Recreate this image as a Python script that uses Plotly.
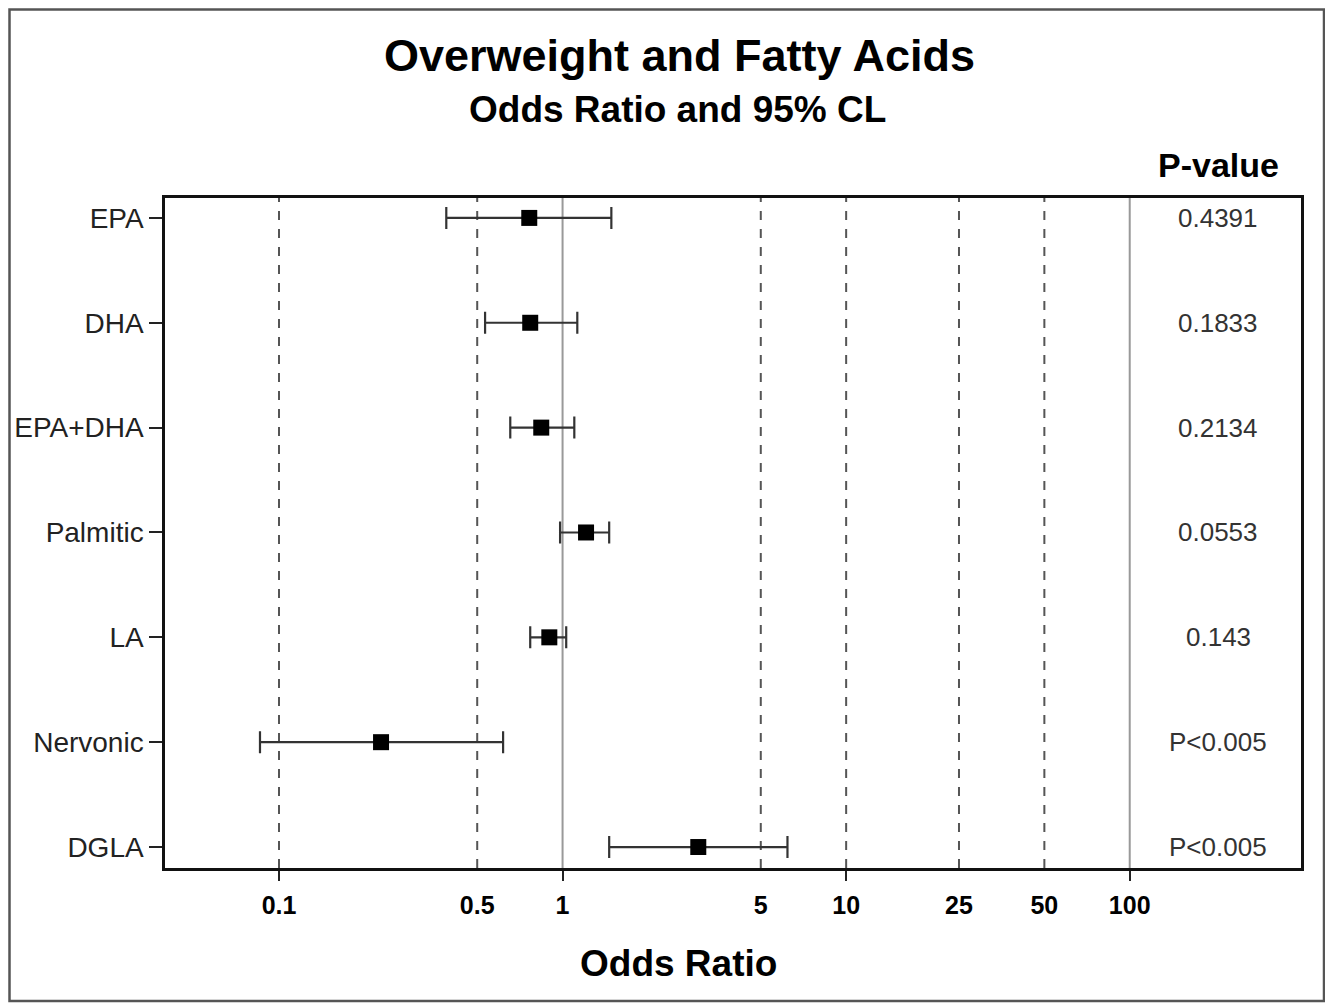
import plotly.graph_objects as go

acids = ["EPA", "DHA", "EPA+DHA", "Palmitic", "LA", "Nervonic", "DGLA"]
odds_ratio = [0.763, 0.769, 0.841, 1.21, 0.898, 0.229, 3.01]
ci_lower = [0.389, 0.533, 0.654, 0.98, 0.769, 0.0857, 1.46]
ci_upper = [1.486, 1.127, 1.10, 1.46, 1.03, 0.617, 6.21]
p_values = ["0.4391", "0.1833", "0.2134", "0.0553", "0.143", "P<0.005", "P<0.005"]

tick_vals = [0.1, 0.5, 1, 5, 10, 25, 50, 100]
tick_text = ["0.1", "0.5", "1", "5", "10", "25", "50", "100"]
dashed_refs = [0.1, 0.5, 5, 10, 25, 50]
solid_refs = [1, 100]
major_ticks = [0.1, 1, 10, 100]

FONT = "Liberation Sans, Arial, Helvetica, sans-serif"

# page offset: browser body margin of 8px
W, H = 1325, 996
L, R, T, B = 157, 32, 190, 136
PW = W - L - R          # 1136
PH = H - T - B          # 670
PLOT_LEFT_PAGE = 8 + L  # 165
PLOT_BOTTOM_PAGE = 8 + H - B  # 868


def px(x):
    return (x - PLOT_LEFT_PAGE) / PW


def py(y):
    return (PLOT_BOTTOM_PAGE - y) / PH


fig = go.Figure()
fig.add_trace(go.Scatter(
    x=odds_ratio, y=acids, mode="markers",
    marker=dict(symbol="square", size=16, color="black"),
    error_x=dict(type="data", symmetric=False,
                 array=[u - o for u, o in zip(ci_upper, odds_ratio)],
                 arrayminus=[o - l for o, l in zip(odds_ratio, ci_lower)],
                 color="#333333", thickness=2.2, width=11),
    showlegend=False,
))

shapes = []
for v in dashed_refs:
    shapes.append(dict(type="line", xref="x", yref="paper", x0=v, x1=v, y0=0, y1=1,
                       line=dict(color="#555555", width=2, dash="dash"), layer="below"))
for v in solid_refs:
    shapes.append(dict(type="line", xref="x", yref="paper", x0=v, x1=v, y0=0, y1=1,
                       line=dict(color="#999999", width=2), layer="below"))
# outer frame
shapes.append(dict(type="rect", xref="paper", yref="paper",
                   x0=px(9.5), x1=px(1324), y0=py(1001), y1=py(9.5),
                   line=dict(color="#555555", width=2.5), fillcolor="rgba(0,0,0,0)"))

annotations = [
    dict(text="<b>Overweight and Fatty Acids</b>", xref="paper", yref="paper",
         x=px(679), y=py(55), showarrow=False, font=dict(size=45, color="black", family=FONT),
         xanchor="center", yanchor="middle"),
    dict(text="<b>Odds Ratio and 95% CL</b>", xref="paper", yref="paper",
         x=px(677), y=py(110), showarrow=False, font=dict(size=37, color="black", family=FONT),
         xanchor="center", yanchor="middle"),
    dict(text="<b>P-value</b>", xref="paper", yref="paper",
         x=px(1218), y=py(165), showarrow=False, font=dict(size=34, color="black", family=FONT),
         xanchor="center", yanchor="middle"),
    dict(text="<b>Odds Ratio</b>", xref="paper", yref="paper",
         x=px(678), y=py(963), showarrow=False, font=dict(size=37, color="black", family=FONT),
         xanchor="center", yanchor="middle"),
]
for a, p in zip(acids, p_values):
    annotations.append(dict(text=p, xref="paper", yref="y", x=px(1218), y=a,
                            showarrow=False, font=dict(size=26, color="#333333", family=FONT),
                            xanchor="center", yanchor="middle"))

fig.update_layout(
    width=W, height=H,
    margin=dict(l=L, r=R, t=T, b=B, autoexpand=False),
    paper_bgcolor="white", plot_bgcolor="white",
    font=dict(family=FONT, color="black"),
    shapes=shapes, annotations=annotations,
    xaxis=dict(type="log", range=[-1.402, 2.604], automargin=False,
               tickmode="array", tickvals=tick_vals, ticktext=["<b>%s</b>" % t for t in tick_text],
               ticks="", ticklabelstandoff=13,
               tickfont=dict(size=25, color="black", family=FONT),
               showgrid=False, zeroline=False,
               showline=True, linecolor="#111111", linewidth=2.5, mirror=True,
               minor=dict(tickmode="array", tickvals=major_ticks, ticks="outside",
                          ticklen=10, tickwidth=2, tickcolor="#222222", showgrid=False)),
    yaxis=dict(type="category", categoryorder="array", categoryarray=acids, automargin=False,
               range=[6.2, -0.19], ticks="outside", ticklen=13, tickwidth=2, tickcolor="#222222",
               tickfont=dict(size=28, color="#222222", family=FONT),
               showgrid=False, zeroline=False,
               showline=True, linecolor="#111111", linewidth=2.5, mirror=True),
)

fig.write_html("out.html")
